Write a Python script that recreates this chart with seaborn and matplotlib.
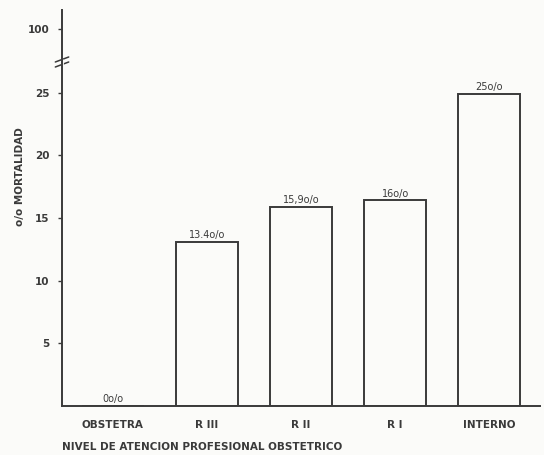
import matplotlib
matplotlib.use('Agg')
import matplotlib.pyplot as plt
import matplotlib.transforms as mtransforms
import seaborn as sns
import pandas as pd

# Data
categories = ['OBSTETRA', 'R III', 'R II', 'R I', 'INTERNO']
mortality = [0.0, 13.1, 15.9, 16.4, 24.9]
bar_labels = ['0o/o', '13.4o/o', '15,9o/o', '16o/o', '25o/o']
ytick_values = [5, 10, 15, 20, 25, 30.1]
ytick_labels = ['5', '10', '15', '20', '25', '100']

df = pd.DataFrame({'nivel': categories, 'mortalidad': mortality})

ink = '#3a3a3a'
sns.set_style('white')
plt.rcParams['font.family'] = ['Liberation Sans Narrow', 'DejaVu Sans']

fig = plt.figure(figsize=(5.44, 4.55), dpi=100)
fig.patch.set_facecolor('#fbfbf9')
ax = fig.add_axes([0.114, 0.108, 0.879, 0.87])
ax.set_facecolor('#fbfbf9')

sns.barplot(data=df, x='nivel', y='mortalidad', fill=False, color=ink,
            width=0.66, linewidth=1.4, ax=ax)
# seaborn may use a lighter edge for unfilled bars; force dark outlines
for p in ax.patches:
    p.set_edgecolor(ink)
    p.set_linewidth(1.4)

for i, (v, lab) in enumerate(zip(mortality, bar_labels)):
    ax.text(i, v + 0.15, lab, ha='center', va='bottom', fontsize=7, color=ink)

ax.set_xlim(-0.54, 4.54)
ax.set_ylim(0, 31.6)
ax.set_yticks(ytick_values)
ax.set_yticklabels(ytick_labels, fontsize=7.5, color=ink, fontweight='bold')
ax.set_xticks(range(len(categories)))
ax.set_xticklabels(categories, fontsize=7.5, color=ink, fontweight='bold')
ax.tick_params(axis='y', length=3, width=1, color=ink, left=True, pad=6)
ax.tick_params(axis='x', length=0, pad=10)

sns.despine(ax=ax)
for s in ['left', 'bottom']:
    ax.spines[s].set_color(ink)
    ax.spines[s].set_linewidth(1.4)

ax.set_ylabel('o/o MORTALIDAD', fontsize=7.5, color=ink, fontweight='bold')
ax.yaxis.set_label_coords(-0.078, 0.58)
ax.set_xlabel('NIVEL DE ATENCION PROFESIONAL OBSTETRICO', fontsize=7.5,
              color=ink, fontweight='bold', loc='left', labelpad=9)

# axis break marks between 25 and 100
trans = mtransforms.blended_transform_factory(ax.transAxes, ax.transData)
for y0 in (27.25, 27.65):
    ax.plot([-0.014, 0.014], [y0 - 0.2, y0 + 0.2], color=ink, lw=1.1,
            transform=trans, clip_on=False)
ax.plot([0, 0], [27.3, 27.6], color='#fbfbf9', lw=2, transform=trans, clip_on=False)

fig.savefig('out.png', dpi=100, facecolor=fig.get_facecolor())
